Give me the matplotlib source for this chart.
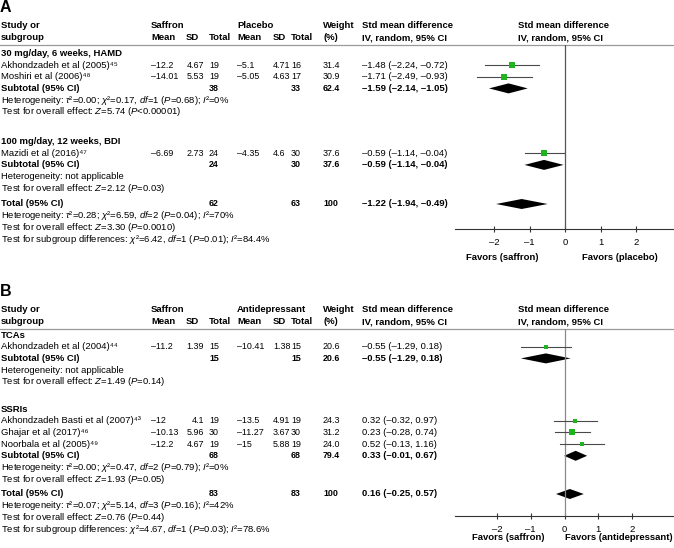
import matplotlib.pyplot as plt

plt.rcParams['font.family'] = ['Liberation Sans', 'DejaVu Sans']
plt.rcParams['mathtext.fontset'] = 'custom'
plt.rcParams['mathtext.rm'] = 'Liberation Sans'
plt.rcParams['mathtext.it'] = 'Liberation Sans:italic'
plt.rcParams['mathtext.bf'] = 'Liberation Sans:bold'

# ---------------- panel A: saffron vs placebo ----------------
a_groups = ["30 mg/day, 6 weeks, HAMD", "100 mg/day, 12 weeks, BDI"]
a_studies = ["Akhondzadeh et al (2005)⁴⁵", "Moshiri et al (2006)⁴⁸",
             "Mazidi et al (2016)⁴⁷"]
a_group_of = [0, 0, 1]
a_saf_mean = [-12.2, -14.01, -6.69]
a_saf_sd = [4.67, 5.53, 2.73]
a_saf_n = [19, 19, 24]
a_ctl_mean = [-5.1, -5.05, -4.35]
a_ctl_sd = [4.71, 4.63, 4.6]
a_ctl_n = [16, 17, 30]
a_weight = [31.4, 30.9, 37.6]
a_smd = [-1.48, -1.71, -0.59]
a_lo = [-2.24, -2.49, -1.14]
a_hi = [-0.72, -0.93, -0.04]
a_sub_saf_n = [38, 24]
a_sub_ctl_n = [33, 30]
a_sub_weight = [62.4, 37.6]
a_sub_smd = [-1.59, -0.59]
a_sub_lo = [-2.14, -1.14]
a_sub_hi = [-1.05, -0.04]
a_sub_het = [r"Heterogeneity: $\tau$²=0.00; $\chi$²=0.17, $\mathit{df}$=1 ($P$=0.68); $I$²=0%",
             "Heterogeneity: not applicable"]
a_sub_test = [r"Test for overall effect: $Z$=5.74 ($P$<0.00001)",
              r"Test for overall effect: $Z$=2.12 ($P$=0.03)"]
a_tot = [62, 63, 100, -1.22, -1.94, -0.49]
a_tot_text = [r"Heterogeneity: $\tau$²=0.28; $\chi$²=6.59, $\mathit{df}$=2 ($P$=0.04); $I$²=70%",
              r"Test for overall effect: $Z$=3.30 ($P$=0.0010)",
              r"Test for subgroup differences: $\chi$²=6.42, $\mathit{df}$=1 ($P$=0.01); $I$²=84.4%"]

# ---------------- panel B: saffron vs antidepressant ----------------
b_groups = ["TCAs", "SSRIs"]
b_studies = ["Akhondzadeh et al (2004)⁴⁴", "Akhondzadeh Basti et al (2007)⁴³",
             "Ghajar et al (2017)⁴⁶", "Noorbala et al (2005)⁴⁹"]
b_group_of = [0, 1, 1, 1]
b_saf_mean = [-11.2, -12, -10.13, -12.2]
b_saf_sd = [1.39, 4.1, 5.96, 4.67]
b_saf_n = [15, 19, 30, 19]
b_ctl_mean = [-10.41, -13.5, -11.27, -15]
b_ctl_sd = [1.38, 4.91, 3.67, 5.88]
b_ctl_n = [15, 19, 30, 19]
b_weight = [20.6, 24.3, 31.2, 24.0]
b_smd = [-0.55, 0.32, 0.23, 0.52]
b_lo = [-1.29, -0.32, -0.28, -0.13]
b_hi = [0.18, 0.97, 0.74, 1.16]
b_sub_saf_n = [15, 68]
b_sub_ctl_n = [15, 68]
b_sub_weight = [20.6, 79.4]
b_sub_smd = [-0.55, 0.33]
b_sub_lo = [-1.29, -0.01]
b_sub_hi = [0.18, 0.67]
b_sub_het = ["Heterogeneity: not applicable",
             r"Heterogeneity: $\tau$²=0.00; $\chi$²=0.47, $\mathit{df}$=2 ($P$=0.79); $I$²=0%"]
b_sub_test = [r"Test for overall effect: $Z$=1.49 ($P$=0.14)",
              r"Test for overall effect: $Z$=1.93 ($P$=0.05)"]
b_tot = [83, 83, 100, 0.16, -0.25, 0.57]
b_tot_text = [r"Heterogeneity: $\tau$²=0.07; $\chi$²=5.14, $\mathit{df}$=3 ($P$=0.16); $I$²=42%",
              r"Test for overall effect: $Z$=0.76 ($P$=0.44)",
              r"Test for subgroup differences: $\chi$²=4.67, $\mathit{df}$=1 ($P$=0.03); $I$²=78.6%"]

ticks = [-2, -1, 0, 1, 2]
tick_labels = ["–2", "–1", "0", "1", "2"]

W, H = 674, 548
FS = 6.8      # running text, headers, CI column
FN = 6.4      # numeric table columns
GREEN = '#1fb41f'

fig = plt.figure(figsize=(W / 100, H / 100), dpi=100)
base = fig.add_axes([0, 0, 1, 1])
base.set_xlim(0, W)
base.set_ylim(H, 0)
base.axis('off')


def num(v):
    return ('%g' % v).replace('-', '–')


def ci(m, lo, hi):
    return f"{m:.2f} ({lo:.2f}, {hi:.2f})".replace('-', '–')


def txt(x, y, s, bold=False, ha='left', size=FS):
    base.text(x, y, s, fontsize=size, fontweight='bold' if bold else 'normal',
              ha=ha, va='center')


def panel(letter, top, ctl_name, groups, studies, group_of, sm, ssd, sn, cm, csd, cn,
          wt, smd, lo, hi, sub_sn, sub_cn, sub_w, sub_smd, sub_lo, sub_hi, sub_het,
          sub_test, tot, tot_text, group_y, total_y, axis_y, zero_px, unit_px,
          favors_y, favors, favors_x, step=11.7, vcol='#777'):
    line_y = top + 18.5
    base.text(0, top - 18, letter, fontsize=11.5, fontweight='bold', va='center')
    # header
    txt(1, top, "Study or", True)
    txt(1, top + 12, "subgroup", True)
    txt(151, top, "Saffron", True)
    txt(151, top + 12, "Mean", True)
    txt(186, top + 12, "SD", True)
    txt(209, top + 12, "Total", True)
    txt(237, top, ctl_name, True)
    txt(237, top + 12, "Mean", True)
    txt(273, top + 12, "SD", True)
    txt(291, top + 12, "Total", True)
    txt(323, top, "Weight", True)
    txt(323, top + 12, "(%)", True)
    txt(362, top, "Std mean difference", True)
    txt(362, top + 12, "IV, random, 95% CI", True)
    txt(518, top, "Std mean difference", True)
    txt(518, top + 12, "IV, random, 95% CI", True)
    base.plot([0, W], [line_y, line_y], color='#9a9a9a', lw=0.9)

    x0 = 455
    fa = fig.add_axes([x0 / W, 1 - axis_y / H, (W - x0) / W, (axis_y - line_y) / H])
    fa.set_xlim((x0 - zero_px) / unit_px, (W - zero_px) / unit_px)
    fa.set_ylim(axis_y, line_y)
    fa.patch.set_visible(False)
    for s in ['top', 'left', 'right']:
        fa.spines[s].set_visible(False)
    fa.spines['bottom'].set_color('#333333')
    fa.spines['bottom'].set_linewidth(0.8)
    fa.set_yticks([])
    fa.set_xticks(ticks)
    fa.set_xticklabels(tick_labels, fontsize=FS)
    fa.tick_params(axis='x', direction='inout', length=5, width=0.8, color='#333333', pad=4)
    fa.axvline(0, color=vcol, lw=0.9)

    def diamond(y, m, l, h):
        fa.fill([l, m, h, m], [y, y - 5, y, y + 5], color='black', lw=0)

    for g, gname in enumerate(groups):
        y = group_y[g]
        txt(1, y, gname, True)
        for i in [k for k in range(len(studies)) if group_of[k] == g]:
            y += step
            txt(1, y, studies[i])
            txt(151, y, num(sm[i]), size=FN)
            txt(204, y, num(ssd[i]), ha='right', size=FN)
            txt(209, y, num(sn[i]), size=FN)
            txt(237, y, num(cm[i]), size=FN)
            txt(273, y, num(csd[i]), size=FN)
            txt(291, y, num(cn[i]), size=FN)
            txt(323, y, f"{wt[i]:.1f}", size=FN)
            txt(362, y, ci(smd[i], lo[i], hi[i]))
            fa.plot([lo[i], hi[i]], [y, y], color='#4a4a4a', lw=0.8)
            fa.plot(smd[i], y, 's', color=GREEN, ms=wt[i] / 5.8 * 0.72, mew=0)
        y += step
        txt(1, y, "Subtotal (95% CI)", True)
        txt(209, y, str(sub_sn[g]), True, size=FN)
        txt(291, y, str(sub_cn[g]), True, size=FN)
        txt(323, y, f"{sub_w[g]:.1f}", True, size=FN)
        txt(362, y, ci(sub_smd[g], sub_lo[g], sub_hi[g]), True)
        diamond(y, sub_smd[g], sub_lo[g], sub_hi[g])
        txt(1, y + step, sub_het[g])
        txt(1, y + 2 * step, sub_test[g])

    y = total_y
    txt(1, y, "Total (95% CI)", True)
    txt(209, y, str(tot[0]), True, size=FN)
    txt(291, y, str(tot[1]), True, size=FN)
    txt(323, y, str(tot[2]), True, size=FN)
    txt(362, y, ci(tot[3], tot[4], tot[5]), True)
    diamond(y, tot[3], tot[4], tot[5])
    for k, s in enumerate(tot_text):
        txt(1, y + step * (k + 1), s)

    for s, x in zip(favors, favors_x):
        txt(x, favors_y, s, True, ha='center')


panel("A", 26, "Placebo", a_groups, a_studies, a_group_of, a_saf_mean, a_saf_sd, a_saf_n,
      a_ctl_mean, a_ctl_sd, a_ctl_n, a_weight, a_smd, a_lo, a_hi, a_sub_saf_n, a_sub_ctl_n,
      a_sub_weight, a_sub_smd, a_sub_lo, a_sub_hi, a_sub_het, a_sub_test, a_tot, a_tot_text,
      group_y=[53.3, 141.5], total_y=204, axis_y=229.3, zero_px=565, unit_px=35.5,
      favors_y=258, favors=["Favors (saffron)", "Favors (placebo)"], favors_x=[502, 620],
      vcol='#555555')

panel("B", 310, "Antidepressant", b_groups, b_studies, b_group_of, b_saf_mean, b_saf_sd,
      b_saf_n, b_ctl_mean, b_ctl_sd, b_ctl_n, b_weight, b_smd, b_lo, b_hi, b_sub_saf_n,
      b_sub_ctl_n, b_sub_weight, b_sub_smd, b_sub_lo, b_sub_hi, b_sub_het, b_sub_test,
      b_tot, b_tot_text, group_y=[335, 409], total_y=494, axis_y=516.3, zero_px=564.5,
      unit_px=33.8, favors_y=538, favors=["Favors (saffron)", "Favors (antidepressant)"],
      favors_x=[508, 619], vcol='#8a8a8a')

fig.savefig("out.png", dpi=100)
